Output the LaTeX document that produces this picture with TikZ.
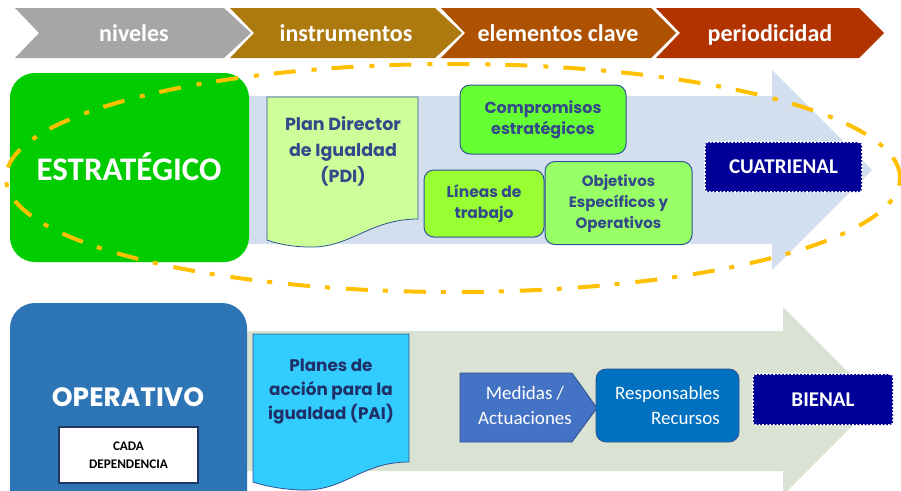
\documentclass[tikz,border=0pt]{standalone}
\usepackage{fontspec}
\setmainfont{Carlito}
\newfontfamily\gothic{Poppins}
\definecolor{cgray}{HTML}{A6A6A6}
\definecolor{cgold}{HTML}{AD7A10}
\definecolor{corange}{HTML}{AE5100}
\definecolor{cred}{HTML}{B23300}
\definecolor{strgreen}{HTML}{00CC00}
\definecolor{arrblue}{HTML}{D3DEEE}
\definecolor{pdifill}{HTML}{CCFF99}
\definecolor{compfill}{HTML}{66FF33}
\definecolor{linfill}{HTML}{99FF33}
\definecolor{objfill}{HTML}{99FF66}
\definecolor{edgeblue}{HTML}{2F5496}
\definecolor{txtblue}{HTML}{34498A}
\definecolor{navybox}{HTML}{000099}
\definecolor{ellorange}{HTML}{FFC000}
\definecolor{opblue}{HTML}{2E75B6}
\definecolor{arrgreen}{HTML}{DAE3D3}
\definecolor{paifill}{HTML}{33CCFF}
\definecolor{paitxt}{HTML}{1F3068}
\definecolor{medfill}{HTML}{4472C4}
\definecolor{resfill}{HTML}{0070C0}
\definecolor{darkedge}{HTML}{2F528F}
\definecolor{cadaedge}{HTML}{1F3864}
\tikzset{
  chevtext/.style={text=white, anchor=base, font=\fontsize{24}{28}\selectfont\bfseries},
  gbox/.style={draw=edgeblue, line width=1pt, rounded corners=10pt, align=center, inner sep=0pt,
    text=txtblue, font=\gothic\fontsize{16}{22}\selectfont\bfseries},
  period/.style={fill=navybox, draw=white, dotted, line width=1.6pt, rounded corners=3pt,
    text=white, inner sep=0pt},
  doctext/.style={align=center, font=\gothic\fontsize{17.5}{26}\selectfont\bfseries},
  opbox/.style={draw=darkedge, line width=0.8pt, text=white, align=center,
    font=\fontsize{19}{25}\selectfont, inner sep=0pt},
}
\begin{document}
\begin{tikzpicture}[x=1pt,y=-1pt]
\useasboundingbox (0,0) rectangle (901,490);
\clip (0,0) rectangle (901,490);
% header chevrons
\fill[cgray]   (15,8) -- (224,8) -- (251,33) -- (224,58) -- (15,58) -- (39,33) -- cycle;
\fill[cgold]   (230,8) -- (435,8) -- (462,33) -- (435,58) -- (230,58) -- (254,33) -- cycle;
\fill[corange] (441,8) -- (651,8) -- (676,33) -- (651,58) -- (441,58) -- (465,33) -- cycle;
\fill[cred]    (656,8) -- (859,8) -- (884,33) -- (859,58) -- (656,58) -- (680,33) -- cycle;
\node[chevtext] (h1) at (134,41) {niveles};
\node[chevtext] (h2) at (346,41) {instrumentos};
\node[chevtext] (h3) at (558,41) {elementos clave};
\node[chevtext] (h4) at (770,41) {periodicidad};

% top background arrow
\fill[arrblue] (240,96) -- (772,96) -- (772,70) -- (872,170) -- (772,270) -- (772,244) -- (240,244) -- cycle;
% estrategico box
\node[fill=strgreen, rounded corners=25pt, minimum width=239pt, minimum height=189pt, inner sep=0pt]
  (estr) at (129.5,167.5) {};
\node[text=white, font=\fontsize{33}{40}\selectfont\bfseries] (estrt) at (129,167) {ESTRATÉGICO};
% PDI document
\draw[fill=pdifill, draw=edgeblue, line width=0.8pt] (267,97) -- (418,97) -- (418,219)
  .. controls (370,219) and (350,248) .. (310,247)
  .. controls (290,247) and (275,243) .. (267,240) -- cycle;
\node[doctext, text=txtblue] (pdi) at (343,151) {Plan Director\\de Igualdad\\(PDI)};
% key elements
\node[gbox, fill=compfill, minimum width=166pt, minimum height=69pt] (comp) at (543,119.5)
  {Compromisos\\[-1pt]estratégicos};
\node[gbox, fill=linfill, minimum width=120pt, minimum height=67pt, font=\gothic\fontsize{15.5}{21}\selectfont\bfseries]
  (lin) at (484,203.5) {Líneas de\\trabajo};
\node[gbox, fill=objfill, minimum width=147pt, minimum height=83pt, font=\gothic\fontsize{15}{21}\selectfont\bfseries]
  (obj) at (618.5,203) {Objetivos\\Específicos y\\Operativos};
\node[period, minimum width=157pt, minimum height=50pt, font=\fontsize{21}{24}\selectfont\bfseries]
  (cuat) at (783.5,167) {CUATRIENAL};
% orange dash-dot ellipse
\draw[ellorange, line width=4pt, dash pattern=on 22pt off 15pt on 5pt off 16pt]
  (453,178) ellipse [x radius=447pt, y radius=114pt];

% bottom background arrow
\fill[arrgreen] (240,331) -- (783,331) -- (783,307) -- (877,401) -- (783,495) -- (783,471) -- (240,471) -- cycle;
% operativo box
\node[fill=opblue, rounded corners=25pt, minimum width=237pt, minimum height=217pt, inner sep=0pt]
  (oper) at (128.5,411.5) {};
\node[text=white, font=\gothic\fontsize{26.5}{30}\selectfont\bfseries] (opert) at (128,397) {OPERATIVO};
\node[fill=white, draw=cadaedge, line width=2pt, minimum width=139pt, minimum height=56pt, inner sep=0pt,
  align=center, font=\fontsize{13.2}{18}\selectfont\bfseries] (cada) at (128.5,455) {CADA\\DEPENDENCIA};
% PAI document
\draw[fill=paifill, draw=edgeblue, line width=0.8pt] (253,334) -- (409,334) -- (409,462)
  .. controls (360,462) and (345,492) .. (300,490)
  .. controls (280,489) and (265,486) .. (253,482) -- cycle;
\node[doctext, text=paitxt, font=\gothic\fontsize{16.8}{24}\selectfont\bfseries] (pai) at (331,392)
  {Planes de\\acción para la\\igualdad (PAI)};
% medidas / responsables
\draw[fill=medfill, draw=darkedge, line width=0.8pt] (460,373) -- (572,373) -- (597,408) -- (572,442) -- (460,442) -- cycle;
\node[opbox, draw=none] (med) at (525,405) {Medidas /\\Actuaciones};
\node[opbox, fill=resfill, rounded corners=10pt, minimum width=143pt, minimum height=73pt, align=right]
  (res) at (667.5,405.5) {Responsables\\Recursos};
\node[period, minimum width=140pt, minimum height=51pt, font=\fontsize{21}{24}\selectfont\bfseries]
  (bien) at (823,399.5) {BIENAL};
\end{tikzpicture}
\end{document}
